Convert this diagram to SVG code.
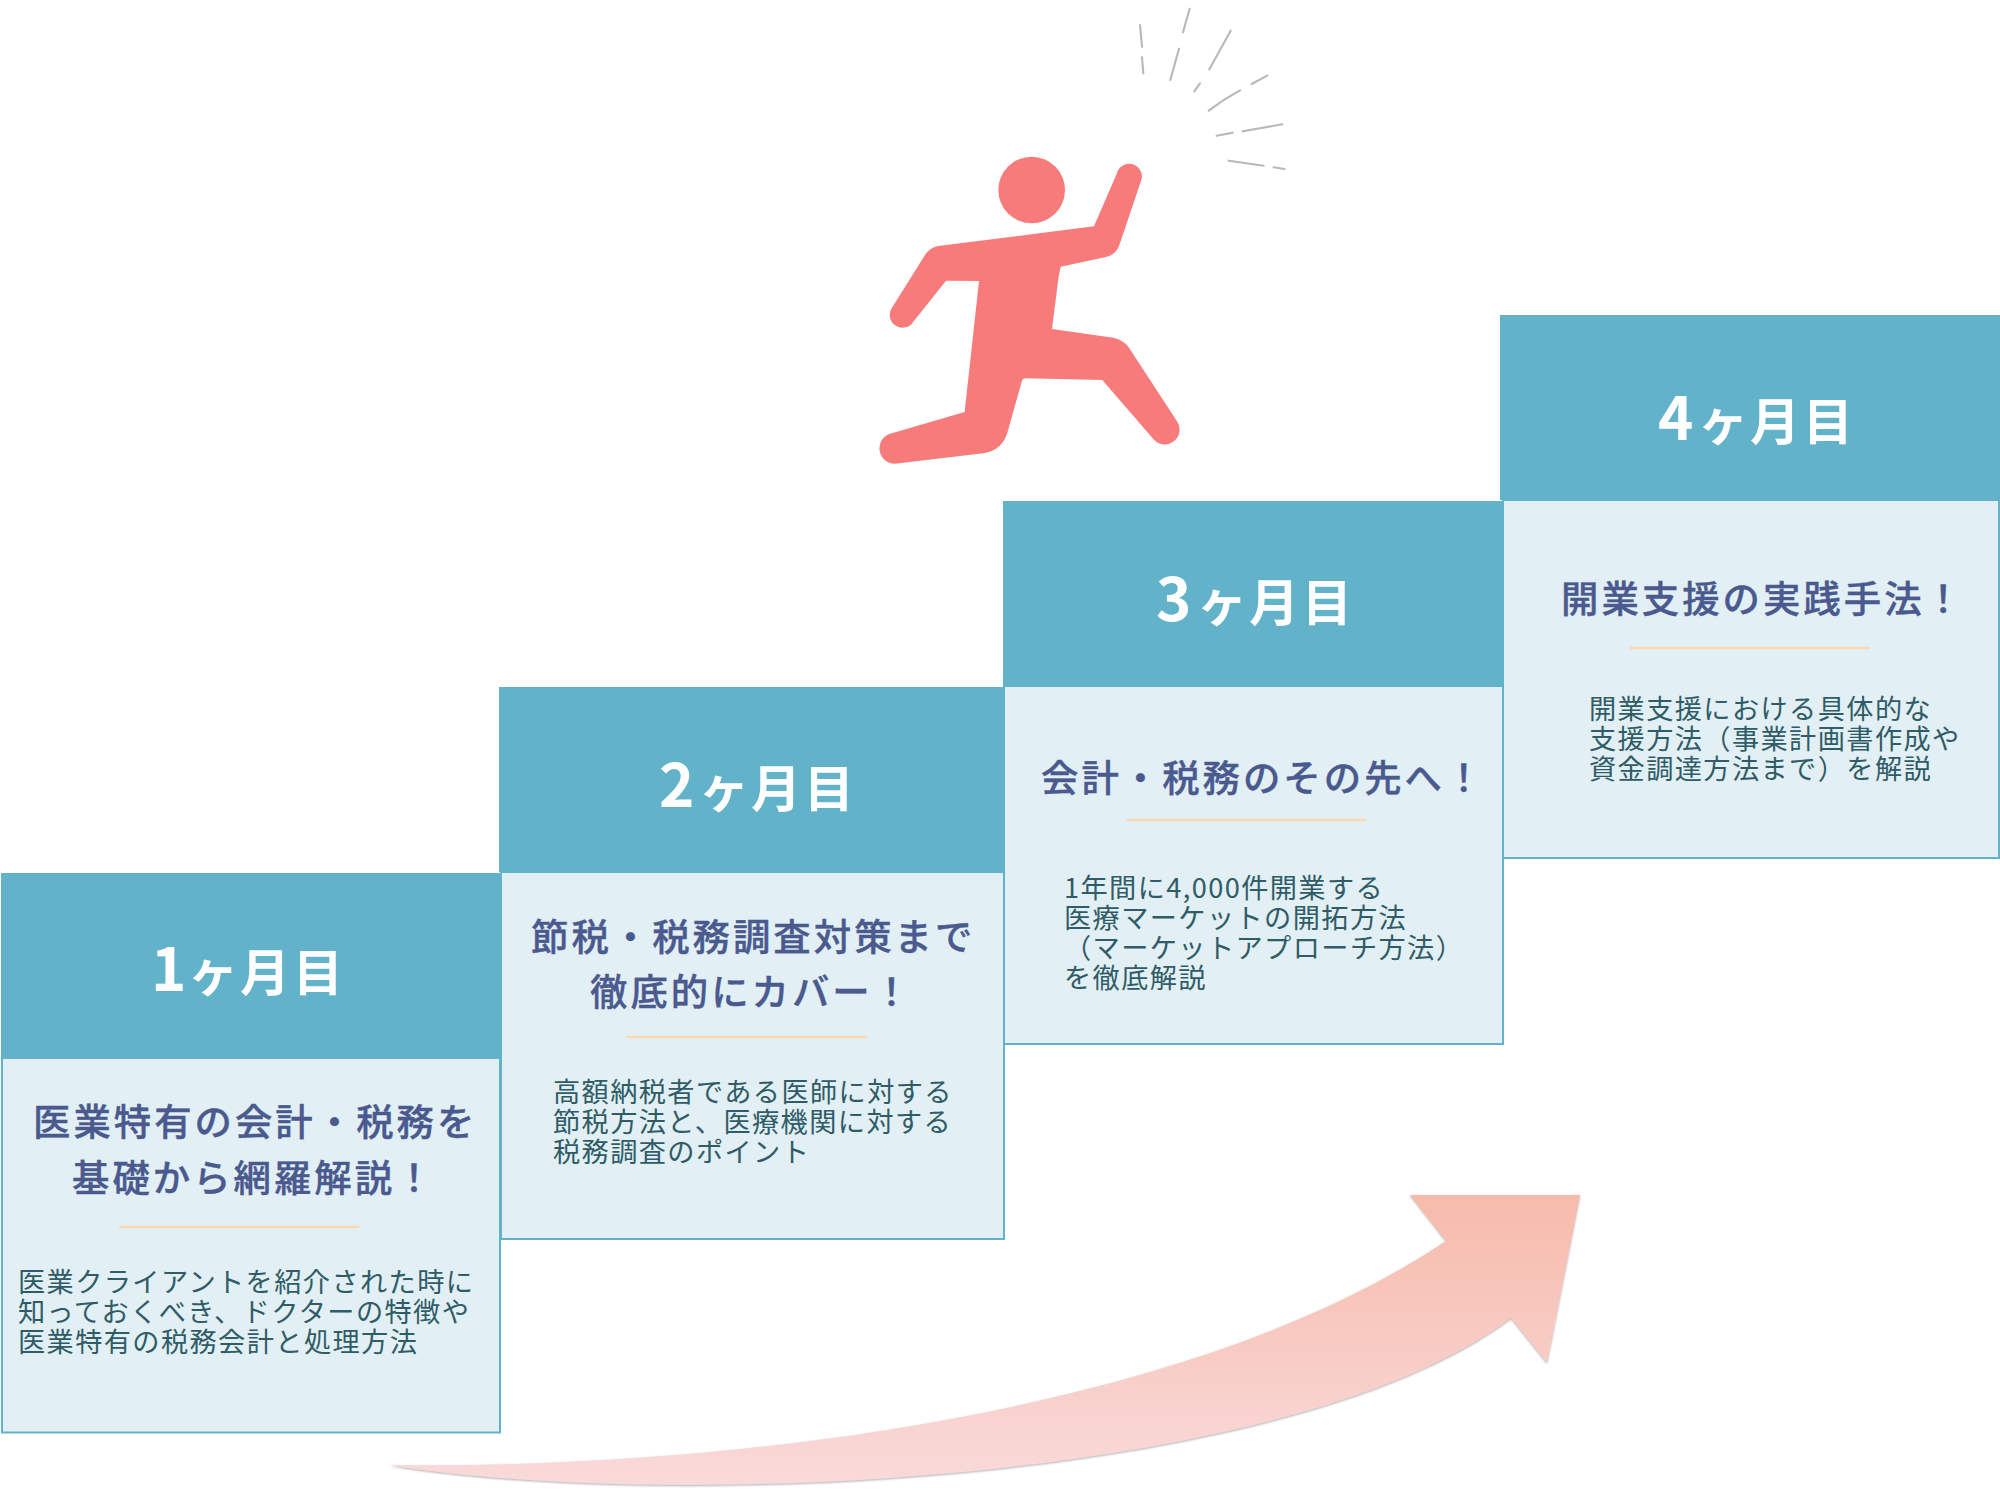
<svg xmlns="http://www.w3.org/2000/svg" width="2000" height="1495" viewBox="0 0 2000 1495">
<style>
text{font-family:"Noto Sans CJK JP","Noto Sans",sans-serif}
.h{fill:#62B3C9}
.b{fill:#E2EFF4;stroke:#62B3C9;stroke-width:2}
.d{stroke:#FBD9AE;stroke-width:2.5}
.m{fill:#fff;font-size:50px;font-weight:700}
.n{font-size:60px}
.t{fill:#4A5A8F;stroke:#4A5A8F;stroke-width:0.4;font-size:37.4px;font-weight:500;letter-spacing:3px}
.x{fill:#2F5C66;font-size:27.2px;letter-spacing:1.4px}
.s{stroke:#B8B8B8;stroke-width:6.3;stroke-linecap:round;fill:none}
</style>
<defs>
<linearGradient id="ag" x1="0" y1="0" x2="0" y2="1"><stop offset="0" stop-color="#F6BBAB"/><stop offset="1" stop-color="#F9DADA"/></linearGradient>
<filter id="as" x="-5%" y="-5%" width="110%" height="110%"><feDropShadow dx="0" dy="1" stdDeviation="0.8" flood-color="#777" flood-opacity="0.6"/></filter>
</defs>
<g id="card-1">
<rect class="b" x="2" y="1058" width="498" height="374.500"/>
<rect class="h" x="1" y="873" width="499" height="185"/>
<text class="m" y="991"><tspan class="n" x="151">1</tspan><tspan x="188">ヶ</tspan><tspan x="240">月</tspan><tspan x="293">目</tspan></text>
<text class="t" x="33" y="1136">医業特有の会計・税務を</text>
<text class="t" x="72" y="1192">基礎から網羅解説！</text>
<line class="d" x1="119" y1="1227" x2="359" y2="1227"/>
<text class="x" x="18" y="1292">医業クライアントを紹介された時に</text>
<text class="x" x="18" y="1322">知っておくべき、ドクターの特徴や</text>
<text class="x" x="18" y="1352">医業特有の税務会計と処理方法</text>
</g>
<g id="card-2">
<rect class="b" x="501" y="872" width="503" height="367"/>
<rect class="h" x="499" y="687" width="505" height="185"/>
<text class="m" y="807"><tspan class="n" x="659">2</tspan><tspan x="699">ヶ</tspan><tspan x="751">月</tspan><tspan x="804">目</tspan></text>
<text class="t" x="531" y="951">節税・税務調査対策まで</text>
<text class="t" x="590" y="1006">徹底的にカバー！</text>
<line class="d" x1="626" y1="1037" x2="867" y2="1037"/>
<text class="x" x="553" y="1102">高額納税者である医師に対する</text>
<text class="x" x="553" y="1132">節税方法と、医療機関に対する</text>
<text class="x" x="553" y="1162">税務調査のポイント</text>
</g>
<g id="card-3">
<rect class="b" x="1004" y="686" width="499" height="358"/>
<rect class="h" x="1003" y="501" width="500" height="185"/>
<text class="m" y="621"><tspan class="n" x="1156">3</tspan><tspan x="1197">ヶ</tspan><tspan x="1249">月</tspan><tspan x="1302">目</tspan></text>
<text class="t" x="1041" y="792">会計・税務のその先へ！</text>
<line class="d" x1="1127" y1="820" x2="1366" y2="820"/>
<text class="x" x="1064" y="898">1年間に4,000件開業する</text>
<text class="x" x="1064" y="928">医療マーケットの開拓方法</text>
<text class="x" x="1064" y="958">（マーケットアプローチ方法）</text>
<text class="x" x="1064" y="988">を徹底解説</text>
</g>
<g id="card-4">
<rect class="b" x="1503" y="500" width="496" height="358"/>
<rect class="h" x="1500" y="315" width="500" height="185"/>
<text class="m" y="440"><tspan class="n" x="1658">4</tspan><tspan x="1698">ヶ</tspan><tspan x="1750">月</tspan><tspan x="1803">目</tspan></text>
<text class="t" x="1561" y="613">開業支援の実践手法！</text>
<line class="d" x1="1630" y1="648" x2="1870" y2="648"/>
<text class="x" x="1589" y="719">開業支援における具体的な</text>
<text class="x" x="1589" y="749">支援方法（事業計画書作成や</text>
<text class="x" x="1589" y="779">資金調達方法まで）を解説</text>
</g>
<g id="figure" transform="translate(850 0) scale(0.33333)">
<circle cx="545" cy="570" r="100" fill="#F87B7C"/>
<path fill="#F87B7C" d="M800 522 A38 38 0 0 1 875 537 L810 730 Q800 765 765 772 L632 800 Q625 830 622 860 L606 987 L790 1013 Q820 1020 835 1040 L980 1262 A40 40 0 0 1 908 1315 L757 1140 L527 1135 Q518 1135 515 1145 L473 1295 Q458 1350 400 1360 L135 1391 A46 46 0 0 1 118 1302 L344 1236 L387 843 L288 842 L190 965 A38 38 0 0 1 125 925 L225 765 Q240 742 265 738 L732 679 Z"/>
</g>
<g id="sparks" transform="translate(850 0) scale(0.33333)">
<path class="s" d="M870 75L876 140M876 172L880 220M1019 26L999 97M987 146L961 240M1142 92L1078 208M1050 250L1033 274M1252 227L1205 252M1170 271Q1120 298 1076 332M1297 373L1178 394M1148 398L1100 407M1136 482L1241 497M1271 502L1303 507"/>
</g>
<g id="connectors">
<path fill="url(#ag)" filter="url(#as)" d="M389 1465 C700 1470 1180 1420 1446 1241 L1410 1195 L1580 1195 L1547 1363 L1511 1318 C1290 1486 660 1510 389 1465 Z"/>
</g>
</svg>
